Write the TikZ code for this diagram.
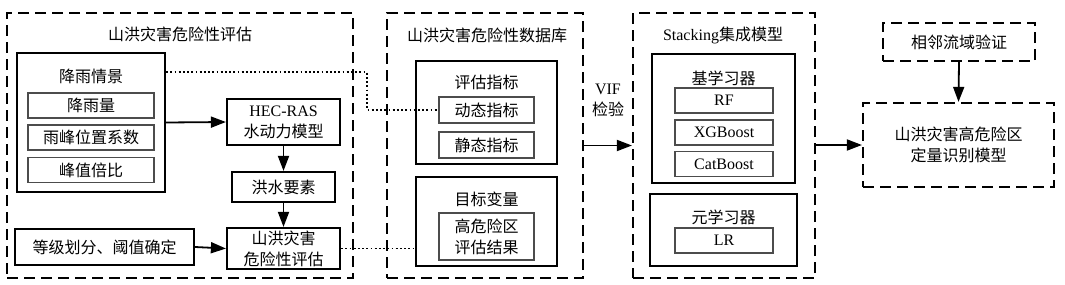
\documentclass[tikz,border=0pt]{standalone}
\usepackage{fontspec}
\setmainfont{Noto Sans CJK SC}
\newfontfamily\lat{Liberation Serif}
\usetikzlibrary{arrows.meta,calc}
\begin{document}
\begin{tikzpicture}[x=1pt,y=-1pt,
  every node/.style={font=\fontsize{16}{21}\selectfont, inner sep=0pt, align=center},
  dbox/.style={draw, line width=2.2pt, dash pattern=on 11pt off 6pt},
  mbox/.style={draw, line width=2.2pt},
  ibox/.style={draw=black!70, line width=1.3pt},
  lbl/.style={},
  arr/.style={line width=1.8pt, -{Triangle[length=15pt,width=11pt]}},
  dots/.style={line width=1.8pt, dash pattern=on 1.8pt off 2.4pt}]
\useasboundingbox (0,0) rectangle (1065,284);
% ---------- panel 1 ----------
\node[dbox, minimum width=346pt, minimum height=265pt] (p1) at (180,145.5) {};
\node[lbl] (t1) at (180,34) {山洪灾害危险性评估};
\node[mbox, minimum width=148pt, minimum height=139pt] (rain) at (91,122.5) {};
\node[lbl] (raint) at (91,76) {降雨情景};
\node[ibox, minimum width=126pt, minimum height=25pt] (r1) at (91,105.5) {降雨量};
\node[ibox, minimum width=126pt, minimum height=25pt] (r2) at (91,137.5) {雨峰位置系数};
\node[ibox, minimum width=126pt, minimum height=25pt] (r3) at (91,170) {峰值倍比};
\node[mbox, minimum width=113pt, minimum height=46pt] (hec) at (283.5,122) {{\lat HEC-RAS}\\水动力模型};
\node[mbox, minimum width=103pt, minimum height=30pt] (flood) at (283.5,187) {洪水要素};
\node[mbox, minimum width=113pt, minimum height=41pt] (assess) at (283.5,248.5) {山洪灾害\\危险性评估};
\node[mbox, minimum width=179pt, minimum height=36pt] (grade) at (104.5,247) {等级划分、阈值确定};
\draw[arr] (rain.east) -- (hec.west);
\draw[arr] (hec.south) -- (flood.north);
\draw[arr] (flood.south) -- (assess.north);
\draw[arr] (grade.east) -- (assess.west);
% ---------- panel 2 ----------
\node[dbox, minimum width=196pt, minimum height=265pt] (p2) at (485,145.5) {};
\node[lbl] (t2) at (487,35) {山洪灾害危险性数据库};
\node[mbox, minimum width=141pt, minimum height=103pt] (idx) at (486.5,112.5) {};
\node[lbl] (idxt) at (486.5,82) {评估指标};
\node[ibox, minimum width=95pt, minimum height=26pt] (dyn) at (486.5,110) {动态指标};
\node[ibox, minimum width=95pt, minimum height=26pt] (stat) at (486.5,145) {静态指标};
\node[mbox, minimum width=141pt, minimum height=89pt] (tgt) at (486.5,221.5) {};
\node[lbl] (tgtt) at (486.5,199) {目标变量};
\node[ibox, minimum width=95pt, minimum height=47pt] (res) at (486.5,236.5) {高危险区\\评估结果};
\coordinate (d1) at (367,72);
\draw[dots] (rain.east |- d1) -- (d1) -- (d1 |- dyn.west) -- (dyn.west);
\draw[dots] (assess.east) -- (tgt.west |- assess.east);
\node[lbl] (vif) at (608,100) {{\lat VIF}\\检验};
% ---------- panel 3 ----------
\node[dbox, minimum width=182pt, minimum height=265pt] (p3) at (724,145.5) {};
\node[lbl] (t3) at (723,35) {{\lat Stacking}集成模型};
\node[mbox, minimum width=143pt, minimum height=129pt] (base) at (723.5,118.5) {};
\node[lbl] (baset) at (723.5,78) {基学习器};
\node[ibox, minimum width=98pt, minimum height=25pt] (rf) at (724,100.5) {\lat RF};
\node[ibox, minimum width=98pt, minimum height=25pt] (xgb) at (724,132.5) {\lat XGBoost};
\node[ibox, minimum width=98pt, minimum height=25pt] (cat) at (724,164) {\lat CatBoost};
\node[mbox, minimum width=147pt, minimum height=72pt] (meta) at (723.5,230) {};
\node[lbl] (metat) at (723.5,217) {元学习器};
\node[ibox, minimum width=98pt, minimum height=25pt] (lr) at (724,240.5) {\lat LR};
\draw[arr] (p2.east |- 0,145.5) -- (p3.west |- 0,145.5);
% ---------- output ----------
\node[dbox, minimum width=191pt, minimum height=84pt] (final) at (958.5,145) {山洪灾害高危险区\\定量识别模型};
\node[dbox, minimum width=152pt, minimum height=38pt] (adj) at (959,42) {相邻流域验证};
\draw[arr] (p3.east |- final.west) -- (final.west);
\draw[arr] (adj.south) -- (final.north);
\end{tikzpicture}
\end{document}
